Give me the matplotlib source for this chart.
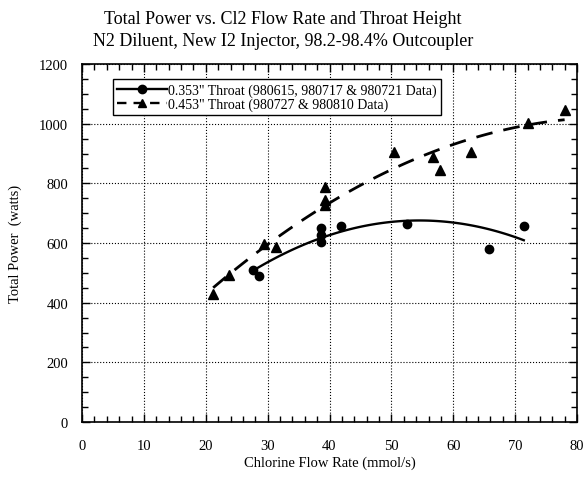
import matplotlib
matplotlib.use("Agg")
import matplotlib.pyplot as plt
from matplotlib.ticker import MultipleLocator
import numpy as np

plt.rcParams['font.family'] = ['Liberation Serif', 'DejaVu Serif']

# 0.353" throat (980615, 980717 & 980721)
x_353 = [27.6, 28.6, 38.6, 38.6, 38.6, 41.9, 52.5, 65.7, 71.4]
y_353 = [509, 491, 650, 628, 605, 658, 664, 581, 658]

# 0.453" throat (980727 & 980810)
x_453 = [21.2, 23.8, 29.4, 31.3, 39.2, 39.2, 39.3, 50.5, 56.8, 57.9, 62.9, 72.1, 78.0]
y_453 = [428, 492, 595, 585, 787, 744, 728, 905, 887, 844, 905, 1002, 1047]

label_353 = '0.353" Throat (980615, 980717 & 980721 Data)'
label_453 = '0.453" Throat (980727 & 980810 Data)'

fig = plt.figure(figsize=(5.84, 4.81), dpi=100)
ax = fig.add_axes([82 / 584, 1 - 423 / 481, (577 - 82) / 584, (423 - 65) / 481])

# quadratic trendlines through each data set
c1 = np.polyfit(x_353, y_353, 2)
xs1 = np.linspace(min(x_353), max(x_353), 100)
c2 = np.polyfit(x_453, y_453, 2)
xs2 = np.linspace(min(x_453), max(x_453), 100)

ax.plot(xs1, np.polyval(c1, xs1), color='black', lw=1.7, ls='-')
ax.plot(xs2, np.polyval(c2, xs2), color='black', lw=2.0, ls=(0, (6, 4)))
ax.plot(x_353, y_353, 'o', color='black', ms=6, ls='none')
ax.plot(x_453, y_453, '^', color='black', ms=6.5, ls='none')

# legend proxies
ax.plot([], [], color='black', lw=1.7, marker='o', ms=6, label=label_353)
ax.plot([], [], color='black', lw=1.7, ls=(0, (4, 3)), marker='^', ms=6, label=label_453)
leg = ax.legend(loc='upper left', bbox_to_anchor=(0.062, 0.958), fontsize=10,
                frameon=True, fancybox=False, framealpha=1, edgecolor='black',
                handlelength=3.6, borderpad=0.3, labelspacing=0.05, handletextpad=0.1,
                borderaxespad=0)
leg.get_frame().set_linewidth(1.0)

ax.set_xlim(0, 80)
ax.set_ylim(0, 1200)
ax.xaxis.set_major_locator(MultipleLocator(10))
ax.xaxis.set_minor_locator(MultipleLocator(2))
ax.yaxis.set_major_locator(MultipleLocator(200))
ax.yaxis.set_minor_locator(MultipleLocator(50))
ax.tick_params(which='both', direction='in', top=True, right=True, labelsize=10.5)
ax.tick_params(which='major', length=6, width=1)
ax.tick_params(which='minor', length=4, width=1)
ax.tick_params(axis='x', pad=12)
ax.tick_params(axis='y', pad=10)
ax.grid(True, which='major', ls=':', color='black', lw=0.8)
for s in ax.spines.values():
    s.set_linewidth(1.2)

ax.set_xlabel('Chlorine Flow Rate (mmol/s)', fontsize=10.5, labelpad=3)
ax.set_ylabel('Total Power  (watts)', fontsize=10.5, labelpad=12)
fig.suptitle('Total Power vs. Cl2 Flow Rate and Throat Height\n'
             'N2 Diluent, New I2 Injector, 98.2-98.4% Outcoupler',
             fontsize=13, y=0.977, x=0.485, linespacing=1.35)

fig.savefig('out.png', dpi=100)
